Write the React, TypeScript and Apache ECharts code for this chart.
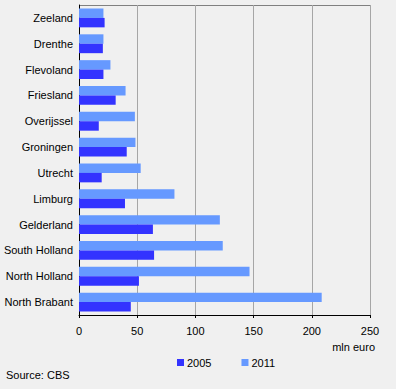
import React, { useEffect, useRef } from "react";
import * as echarts from "echarts";

const categories = [
  "Zeeland",
  "Drenthe",
  "Flevoland",
  "Friesland",
  "Overijssel",
  "Groningen",
  "Utrecht",
  "Limburg",
  "Gelderland",
  "South Holland",
  "North Holland",
  "North Brabant",
];
const values2005 = [22, 20.5, 21, 31.5, 17, 41, 19.5, 39.5, 63.5, 64.5, 51.5, 44.5];
const values2011 = [21, 21, 27, 40, 48, 48.5, 53, 82, 121, 123.5, 146.5, 208.5];
const xTicks = [0, 50, 100, 150, 200, 250];

const FONT = "'Liberation Sans', Arial, sans-serif";

export default function App() {
  const ref = useRef<HTMLDivElement>(null);
  useEffect(() => {
    if (!ref.current) return;
    const chart = echarts.init(ref.current, null, { renderer: "svg" });
    chart.setOption({
      animation: false,
      backgroundColor: "#f0f0f0",
      textStyle: { fontFamily: FONT },
      grid: { left: 79, right: 26, top: 5, bottom: 74, containLabel: false, show: false },
      legend: {
        data: ["2005", "2011"],
        left: 177,
        top: 357,
        padding: 0,
        icon: "rect",
        itemWidth: 7,
        itemHeight: 7,
        itemGap: 30,
        textStyle: { fontFamily: FONT, fontSize: 11, color: "#000", padding: [0, 0, 0, -2] },
      },
      xAxis: {
        type: "value",
        min: xTicks[0],
        max: xTicks[xTicks.length - 1],
        interval: 50,
        axisLine: { show: true, lineStyle: { color: "#000", width: 1 } },
        axisTick: { show: true, length: 3, lineStyle: { color: "#000" } },
        axisLabel: { color: "#000", fontSize: 11, fontFamily: FONT, margin: 10 },
        splitLine: { show: true, lineStyle: { color: "#a6a6a6", width: 1 } },
      },
      yAxis: {
        type: "category",
        data: categories,
        inverse: true,
        axisLine: { show: true, lineStyle: { color: "#000", width: 1 } },
        axisTick: { show: false },
        axisLabel: { color: "#000", fontSize: 11, fontFamily: FONT, margin: 6 },
      },
      graphic: [
        {
          type: "line",
          shape: { x1: 79, y1: 5.5, x2: 370, y2: 5.5 },
          style: { stroke: "#808080", lineWidth: 1 },
        },
        {
          type: "line",
          shape: { x1: 370.5, y1: 5, x2: 370.5, y2: 315 },
          style: { stroke: "#808080", lineWidth: 1 },
        },
        {
          type: "text",
          right: 21,
          top: 341.5,
          style: { text: "mln euro", fill: "#000", font: `11px ${FONT}` },
        },
        {
          type: "text",
          left: 6,
          top: 369,
          style: { text: "Source: CBS", fill: "#000", font: `11px ${FONT}` },
        },
      ],
      series: [
        {
          name: "2011",
          type: "bar",
          data: values2011,
          itemStyle: { color: "#6699ff" },
          barGap: "0%",
          barCategoryGap: "27%",
        },
        {
          name: "2005",
          type: "bar",
          data: values2005,
          itemStyle: { color: "#3333ff" },
          barGap: "0%",
          barCategoryGap: "27%",
        },
      ],
    });
    return () => chart.dispose();
  }, []);
  return <div ref={ref} style={{ width: 396, height: 389, position: "absolute", left: 0, top: 0 }} />;
}
